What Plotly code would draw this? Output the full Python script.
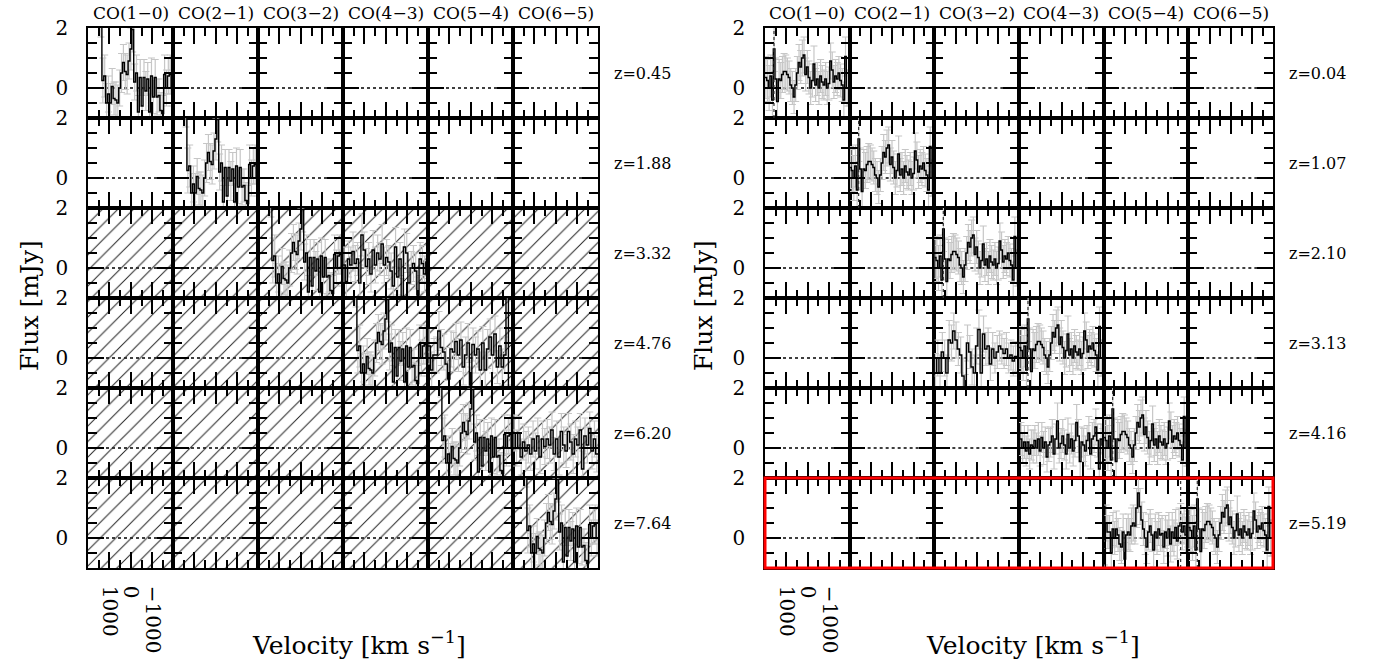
import numpy as np
import plotly.graph_objects as go

W, H = 1376, 666
FONT = "DejaVu Serif"

# ---------------- text / categories ----------------
line_names = ["CO(1−0)", "CO(2−1)", "CO(3−2)", "CO(4−3)", "CO(5−4)", "CO(6−5)"]
z_left = ["z=0.45", "z=1.88", "z=3.32", "z=4.76", "z=6.20", "z=7.64"]
z_right = ["z=0.04", "z=1.07", "z=2.10", "z=3.13", "z=4.16", "z=5.19"]

x_tickvals = [1000, 0, -1000]
x_ticktext = ["1000", "0", "−1000"]
x_minor = [1500, 500, -500, -1500]
y_tickvals = [0, 2]
y_ticktext = ["0", "2"]
y_minor = [-0.5, 0.5, 1.0, 1.5]

V_RANGE = [2000, -1960]   # velocity range of every cell (km/s), reversed
F_RANGE = [-1, 2]         # flux range of every cell (mJy)

# ---------------- spectra (flux, error, v_start, v_end) ----------------
LA_flux = [2.6, 0.25, 0.4, -0.5, -0.2, -0.5, 0.05, -0.35, -0.4, -0.5,
           0.0, 0.5, 0.85, 0.55, 0.45, 0.9, 1.3, 1.95, 0.2, 0.5,
           -0.8, 0.35, -0.6, 0.35, -0.1, 0.3, -0.8, 0.4, -0.3, 0.35,
           -0.3, -0.25, -0.75, -0.85, 0.45, 0.0, 0.4, 0.45, 0.0]
LA_err = [0.9, 0.75, 0.7, 0.65, 0.6, 0.65, 0.6, 0.55, 0.6, 0.6,
          0.6, 0.65, 0.6, 0.6, 0.65, 0.6, 0.7, 0.75, 0.6, 0.6,
          0.55, 0.6, 0.55, 0.6, 0.65, 0.55, 0.6, 0.6, 0.55, 0.6,
          0.6, 0.55, 0.6, 0.6, 0.65, 0.6, 0.6, 0.65, 0.6]

LB3_flux = [0.1, -0.45, 0.3, 0.1, 0.55, 0.15, 0.3, -0.5, 1.1, 0.6,
            0.05, 0.3, -0.2, 0.6, 0.1, 0.5, 0.3, 0.8, 0.1, 0.35,
            0.2, -0.1, -0.6, 0.7, -0.3, 0.3, -0.95, 0.7, 0.5, -0.5,
            0.0, 0.15, -0.1, -0.9, 0.3, 0.15, -0.2, 0.2]
LB3_err = [0.6, 0.55, 0.6, 0.6, 0.65, 0.6, 0.55, 0.6, 0.7, 0.6,
           0.6, 0.55, 0.6, 0.65, 0.6, 0.6, 0.55, 0.65, 0.6, 0.6,
           0.55, 0.6, 0.6, 0.65, 0.6, 0.55, 0.6, 0.6, 0.65, 0.6,
           0.55, 0.6, 0.6, 0.6, 0.55, 0.6, 0.6, 0.55]

LB4_flux = [0.4, -0.4, 0.1, 0.1, 0.9, 0.35, 0.2, -0.2, -0.7, 0.3,
            0.2, 0.55, 0.1, 0.6, -0.3, 0.1, 0.5, -0.9, 0.45, 0.1,
            0.3, -0.4, 0.5, -0.4, 0.3, 0.7, 0.1, 0.8, -0.3, 0.4,
            -0.3, 0.1, 2.5, -1.5]
LB4_err = [0.6, 0.6, 0.55, 0.6, 0.65, 0.6, 0.6, 0.55, 0.6, 0.6,
           0.65, 0.6, 0.55, 0.6, 0.6, 0.6, 0.65, 0.6, 0.55, 0.6,
           0.6, 0.6, 0.55, 0.6, 0.65, 0.6, 0.6, 0.6, 0.55, 0.6,
           0.6, 0.6, 0.6, 0.6]

LB5_flux = [0.5, 0.0, 0.5, -0.3, 0.2, -0.1, 0.1, -0.2, 0.3, -0.1,
            0.4, -0.3, 0.3, 0.05, 0.3, 0.1, 0.6, -0.2, 0.3, -0.3,
            0.55, 0.1, -0.1, 0.55, 0.2, -0.2, 0.3, 0.1, 0.6, -0.7,
            0.4, 0.1, 0.65, -0.1, 0.3, -0.2]
LB5_err = [0.6, 0.6, 0.55, 0.6, 0.6, 0.65, 0.6, 0.55, 0.6, 0.6,
           0.6, 0.55, 0.6, 0.6, 0.65, 0.6, 0.6, 0.55, 0.6, 0.6,
           0.6, 0.6, 0.55, 0.6, 0.6, 0.65, 0.6, 0.6, 0.55, 0.6,
           0.6, 0.6, 0.55, 0.6, 0.6, 0.6]

RA_flux = [0.35, 0.25, 0.0, 0.4, -0.4, 1.3, 0.3, -0.45, 0.3, 0.25,
           0.45, 0.55, 0.55, 0.45, 0.35, 0.1, 0.0, -0.3, 0.1, 0.5,
           0.85, 0.7, 1.0, 1.1, 0.45, 0.7, 0.35, 0.0, 0.25, 0.8,
           0.1, 0.3, 0.0, 0.4, 0.2, 0.1, 0.3, 0.0, 0.15, 0.9,
           0.6, 0.2, 0.4, 0.3, 0.5, 0.25, 0.1, -0.4, 1.05, 0.0,
           0.0]
RA_err = [0.7, 0.7, 0.75, 0.7, 0.7, 0.75, 0.7, 0.65, 0.65, 0.6,
          0.6, 0.6, 0.55, 0.55, 0.55, 0.55, 0.55, 0.55, 0.55, 0.55,
          0.6, 0.55, 0.6, 0.6, 0.55, 0.55, 0.55, 0.55, 0.55, 0.6,
          0.55, 0.55, 0.55, 0.55, 0.55, 0.5, 0.55, 0.55, 0.55, 0.6,
          0.6, 0.55, 0.55, 0.55, 0.55, 0.55, 0.55, 0.6, 0.65, 0.6,
          0.6]

RB4_flux = [-0.5, 0.0, -0.5, 0.2, 0.0, -0.5, 0.6, 0.5, 0.9, 0.6,
            0.3, 0.1, -0.6, -1.2, 0.5, 0.2, -0.3, -0.5, 0.4, 0.95,
            -0.5, 0.8, 0.3, 0.4, -0.2, 0.3, 0.0, 0.2, 0.4, 0.3,
            0.15, 0.3, 0.0, 0.1, -0.1, 0.05, 0.0]
RB4_err = [0.65, 0.6, 0.6, 0.65, 0.6, 0.6, 0.65, 0.6, 0.6, 0.6,
           0.55, 0.6, 0.6, 0.65, 0.6, 0.55, 0.6, 0.6, 0.6, 0.65,
           0.6, 0.6, 0.55, 0.6, 0.55, 0.55, 0.5, 0.55, 0.5, 0.5,
           0.5, 0.55, 0.5, 0.5, 0.5, 0.5, 0.5]

RB5_flux = [0.3, 0.0, 0.2, -0.1, 0.2, -0.2, 0.1, 0.05, 0.25, 0.0,
            0.3, -0.1, 0.35, 0.0, 0.2, -0.3, 0.1, 0.2, 0.4, -0.2,
            0.3, 0.9, 0.0, 0.15, 0.4, 0.1, -0.2, 0.45, 0.0, 0.3,
            -0.1, 0.25, 0.85, 0.4, -0.45, 0.2, 0.1, -0.1, 0.25, 0.5,
            -0.2, 0.3, 0.4, 0.7, 0.25, -0.7, 0.3, 0.1]
RB5_err = [0.55, 0.5, 0.55, 0.5, 0.55, 0.5, 0.5, 0.55, 0.5, 0.5,
           0.55, 0.5, 0.5, 0.55, 0.5, 0.5, 0.55, 0.5, 0.55, 0.5,
           0.5, 0.6, 0.5, 0.5, 0.55, 0.5, 0.5, 0.55, 0.5, 0.5,
           0.5, 0.55, 0.6, 0.55, 0.5, 0.5, 0.55, 0.5, 0.5, 0.55,
           0.5, 0.55, 0.55, 0.6, 0.55, 0.55, 0.5, 0.55]

RB6_flux = [-1.5, 0.5, 0.2, 0.2, -0.5, 0.3, 0.0, 0.3, 0.1, -0.2,
            -0.3, 0.2, -0.7, 0.1, 0.2, 0.1, 0.4, 0.5, 0.4, 1.0,
            1.5, 1.05, 0.6, 0.3, 0.0, -0.3, 0.2, 0.4, 0.1, -0.4,
            0.2, 0.0, 0.3, 0.1, 0.15, -0.3, 0.2, 0.0, 0.3, -0.2,
            0.2, 0.0, 0.35, -0.1, 0.4, 0.5, 0.2, 0.4, 0.1, 0.3]
RB6_err = [0.6, 0.6, 0.55, 0.55, 0.6, 0.55, 0.55, 0.6, 0.55, 0.55,
           0.55, 0.6, 0.55, 0.55, 0.6, 0.55, 0.6, 0.6, 0.6, 0.65,
           0.65, 0.6, 0.6, 0.55, 0.55, 0.55, 0.6, 0.55, 0.55, 0.55,
           0.6, 0.55, 0.55, 0.55, 0.6, 0.55, 0.55, 0.6, 0.55, 0.6,
           0.65, 0.6, 0.6, 0.6, 0.6, 0.65, 0.6, 0.6, 0.6, 0.6]

spectra = {
    "LA": (LA_flux, LA_err, 1440, -1960),
    "LB3": (LB3_flux, LB3_err, 2000, -1960),
    "LB4": (LB4_flux, LB4_err, 2000, -1860),
    "LB5": (LB5_flux, LB5_err, 2000, -1960),
    "RA": (RA_flux, RA_err, 2000, -1960),
    "RB4": (RB4_flux, RB4_err, 2000, -1960),
    "RB5": (RB5_flux, RB5_err, 1950, -1960),
    "RB6": (RB6_flux, RB6_err, 2000, -1960),
}

# (panel, row, col, spectrum)
placements = [
    (0, 0, 0, "LA"), (0, 1, 1, "LA"), (0, 2, 2, "LA"), (0, 2, 3, "LB3"),
    (0, 3, 3, "LA"), (0, 3, 4, "LB4"), (0, 4, 4, "LA"), (0, 4, 5, "LB5"),
    (0, 5, 5, "LA"),
    (1, 0, 0, "RA"), (1, 1, 1, "RA"), (1, 2, 2, "RA"), (1, 3, 2, "RB4"),
    (1, 3, 3, "RA"), (1, 4, 3, "RB5"), (1, 4, 4, "RA"), (1, 5, 4, "RB6"),
    (1, 5, 5, "RA"),
]
# dotted line-centre markers (panel, row, col, velocity)
line_marks = [(1, 0, 0, 1580), (1, 1, 1, 1580), (1, 2, 2, 1580), (1, 3, 3, 1580),
              (1, 4, 4, 1580), (1, 5, 4, -1600), (1, 5, 5, 1580)]

# ---------------- layout geometry (pixels) ----------------
PANEL_X0 = [88, 765]
PANEL_W = [510, 508]
GRID_Y0 = 28
CELL_H = 90
N = 6
HATCH_ROWS = (2, 6)  # left panel rows that are hatched


def cell_id(p, r, c):
    return 2 + p * 36 + r * 6 + c


fig = go.Figure()
layout = {}

# hatch overlay (left panel, lower four rows)
hx0 = PANEL_X0[0] / W
hx1 = (PANEL_X0[0] + PANEL_W[0]) / W
hy1 = 1 - (GRID_Y0 + CELL_H * HATCH_ROWS[0]) / H
hy0 = 1 - (GRID_Y0 + CELL_H * HATCH_ROWS[1]) / H
layout["xaxis"] = dict(domain=[hx0, hx1], range=[0, 1], visible=False,
                       fixedrange=True, automargin=False)
layout["yaxis"] = dict(domain=[hy0, hy1], range=[0, 1], visible=False,
                       fixedrange=True, automargin=False)
fig.add_trace(go.Scatter(
    x=[0, 1, 1, 0, 0], y=[0, 0, 1, 1, 0], xaxis="x", yaxis="y",
    mode="none", fill="toself", fillcolor="rgba(0,0,0,0)",
    fillpattern=dict(shape="/", size=11, solidity=0.09, fgcolor="#222222",
                     bgcolor="rgba(0,0,0,0)"),
    hoverinfo="skip", showlegend=False))

shapes = []
annotations = []
tickfont = dict(family=FONT, size=20, color="black")

for p in range(2):
    cw = PANEL_W[p] / N
    for r in range(N):
        for c in range(N):
            k = cell_id(p, r, c)
            x0 = (PANEL_X0[p] + cw * c) / W
            x1 = (PANEL_X0[p] + cw * (c + 1)) / W
            y1 = 1 - (GRID_Y0 + CELL_H * r) / H
            y0 = 1 - (GRID_Y0 + CELL_H * (r + 1)) / H
            layout[f"xaxis{k}"] = dict(
                domain=[x0, x1], range=V_RANGE, anchor=f"y{k}", automargin=False,
                showline=True, linecolor="black", linewidth=1.6, mirror="allticks",
                ticks="inside", ticklen=16, tickwidth=1.5, tickcolor="black",
                tickmode="array", tickvals=x_tickvals, ticktext=x_ticktext,
                showticklabels=(r == N - 1 and c == 0), tickangle=90,
                tickfont=tickfont, ticklabelstandoff=12,
                minor=dict(tickmode="array", tickvals=x_minor, ticks="inside",
                           ticklen=8, tickwidth=1.5, tickcolor="black"),
                showgrid=False, zeroline=False, fixedrange=True)
            layout[f"yaxis{k}"] = dict(
                domain=[y0, y1], range=F_RANGE, anchor=f"x{k}", automargin=False,
                showline=True, linecolor="black", linewidth=1.6, mirror="allticks",
                ticks="inside", ticklen=16, tickwidth=1.5, tickcolor="black",
                tickmode="array", tickvals=y_tickvals, ticktext=y_ticktext,
                showticklabels=(c == 0), tickfont=tickfont, ticklabelstandoff=14,
                minor=dict(tickmode="array", tickvals=y_minor, ticks="inside",
                           ticklen=9, tickwidth=1.5, tickcolor="black"),
                showgrid=False, zeroline=False, fixedrange=True)
            # dotted zero line
            shapes.append(dict(type="line", xref=f"x{k} domain", yref=f"y{k}",
                               x0=0, x1=1, y0=0, y1=0, layer="below",
                               line=dict(color="black", width=1.3, dash="dot")))

# spectra
for p, r, c, name in placements:
    k = cell_id(p, r, c)
    flux, err, v0, v1 = spectra[name]
    edges = np.linspace(v0, v1, len(flux) + 1)
    centers = 0.5 * (edges[:-1] + edges[1:])
    fig.add_trace(go.Scatter(
        x=centers, y=flux, xaxis=f"x{k}", yaxis=f"y{k}", mode="markers",
        marker=dict(size=1, color="rgba(0,0,0,0)"),
        error_y=dict(type="data", array=err, color="#c6c6c6", thickness=1.2, width=3.5),
        hoverinfo="skip", showlegend=False))
    fig.add_trace(go.Scatter(
        x=edges, y=list(flux) + [flux[-1]], xaxis=f"x{k}", yaxis=f"y{k}",
        mode="lines", line=dict(color="black", width=1.4, shape="hv"),
        hoverinfo="skip", showlegend=False))

for p, r, c, v in line_marks:
    k = cell_id(p, r, c)
    shapes.append(dict(type="line", xref=f"x{k}", yref=f"y{k} domain",
                       x0=v, x1=v, y0=0, y1=1,
                       line=dict(color="#333333", width=1.2, dash="dot")))

# red highlight box around last row of right panel
shapes.append(dict(type="rect", xref="paper", yref="paper",
                   x0=PANEL_X0[1] / W, x1=(PANEL_X0[1] + PANEL_W[1]) / W,
                   y0=1 - (GRID_Y0 + CELL_H * 6) / H, y1=1 - (GRID_Y0 + CELL_H * 5) / H,
                   line=dict(color="#ff0000", width=3), layer="above"))

# column headers
for p in range(2):
    for c in range(N):
        k = cell_id(p, 0, c)
        annotations.append(dict(text=line_names[c], xref=f"x{k} domain", x=0.5,
                                yref="paper", y=1 - 13 / H, showarrow=False,
                                xanchor="center", yanchor="middle",
                                font=dict(family=FONT, size=17, color="black")))
# redshift labels
for p, labels in ((0, z_left), (1, z_right)):
    xr = (PANEL_X0[p] + PANEL_W[p] + 14) / W
    for r in range(N):
        k = cell_id(p, r, N - 1)
        annotations.append(dict(text=labels[r], xref="paper", x=xr, yref=f"y{k}", y=0.5,
                                showarrow=False, xanchor="left", yanchor="middle",
                                font=dict(family=FONT, size=16, color="black")))
# axis titles
for p, fx, vx in ((0, 29, 359), (1, 703, 1033)):
    annotations.append(dict(text="Flux [mJy]", xref="paper", yref="paper",
                            x=fx / W, y=1 - 306 / H, textangle=-90, showarrow=False,
                            xanchor="center", yanchor="middle",
                            font=dict(family=FONT, size=25, color="black")))
    annotations.append(dict(text="Velocity [km s<sup>−1</sup>]", xref="paper", yref="paper",
                            x=vx / W, y=1 - 643 / H, showarrow=False,
                            xanchor="center", yanchor="middle",
                            font=dict(family=FONT, size=25, color="black")))

fig.update_layout(
    template="none",
    width=W, height=H, autosize=False,
    margin=dict(l=0, r=0, t=0, b=0, pad=0),
    paper_bgcolor="white", plot_bgcolor="rgba(0,0,0,0)",
    showlegend=False, shapes=shapes, annotations=annotations,
    font=dict(family=FONT, color="black"),
    **layout)

fig.write_html("out.html", config={"displayModeBar": False},
               post_script="document.body.style.margin='0px';"
                           "document.body.style.padding='0px';")
